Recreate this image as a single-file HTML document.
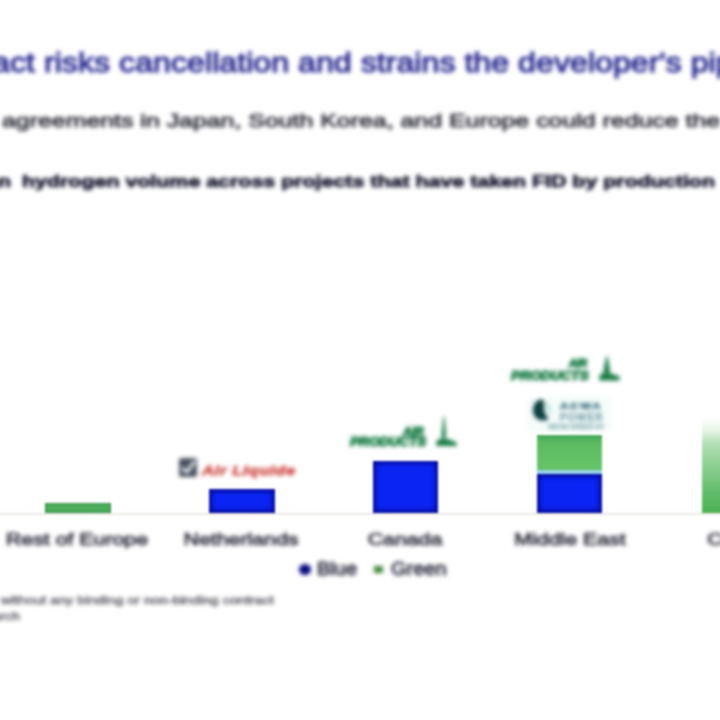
<!DOCTYPE html>
<html lang="en">
<head>
<meta charset="utf-8">
<title>Clean hydrogen offtake risk</title>
<style>
  html, body { margin: 0; padding: 0; background: #ffffff; }
  body { width: 720px; height: 720px; overflow: hidden; position: relative;
         font-family: "Liberation Sans", Arial, sans-serif; }
  .stage { position: absolute; left: -200px; top: -40px; width: 1120px; height: 800px; }
  #shapes { filter: blur(1px); }
  #texts { filter: blur(2.2px); }
  .inner { position: absolute; left: 200px; top: 40px; width: 720px; height: 720px; }
  .t { position: absolute; white-space: nowrap; line-height: 1; margin: 0; transform-origin: 0 89.35%; }
  .pre { position: absolute; right: 100%; top: 0; white-space: pre; }
  .title { font-size: 32.2px; color: #24268e; left: 44px; top: 44.7px; font-weight: normal;
           -webkit-text-stroke: 1.15px #24268e; transform: scaleY(0.88); }
  .sub { font-size: 24.9px; color: #2a2a36; left: 2px; top: 105.5px; -webkit-text-stroke: 1px #2a2a36; transform: scaleY(0.72); }
  .head { font-size: 21.4px; font-weight: bold; color: #10102a; left: 22px; top: 169.5px; -webkit-text-stroke: 0.9px #10102a; transform: scaleY(0.8); }
  .axis { position: absolute; left: -10px; width: 760px; top: 513px; height: 2px; background: #ebe9e5; }
  .bar { position: absolute; }
  .blue { background: #0a24f4; box-shadow: inset 0 0 4px 3px #080e9c; }
  .green { background: #4cae5a; box-shadow: inset 0 0 2px 1px #3a8e4c; }
  .lab { font-size: 21.3px; color: #2a2a38; top: 528px; transform-origin: 50% 89.35%; transform: translateX(-50%) scaleY(0.78); -webkit-text-stroke: 0.95px #2a2a38; }
  .leg { font-size: 20px; color: #2e2e42; top: 558px; transform: scaleY(0.9); -webkit-text-stroke: 0.9px #2e2e42; }
  .foot { font-size: 14.3px; color: #4a4a54; transform: scaleY(0.76); -webkit-text-stroke: 0.5px #4a4a54; }
  .logo { position: absolute; }
  .ap { color: #187c46; font-weight: bold; font-style: italic; -webkit-text-stroke: 1.2px #187c46; }
</style>
</head>
<body>
<div class="stage" id="shapes"><div class="inner">
  <div class="axis"></div>
  <div class="bar green" style="left:45px;top:503px;width:66px;height:10px"></div>
  <div class="bar blue"  style="left:209px;top:489px;width:66px;height:24px"></div>
  <div class="bar blue"  style="left:373px;top:461px;width:65px;height:52px"></div>
  <div class="bar" style="left:537px;top:435px;width:65px;height:36px;background:linear-gradient(to bottom,#42a658 0%,#5cbc62 22%,#66c468 100%)"></div>
  <div class="bar" style="left:537px;top:470px;width:65px;height:4px;background:#9ad2ea"></div>
  <div class="bar blue"  style="left:537px;top:473.5px;width:65px;height:39.5px"></div>
  <div class="bar" style="left:702px;top:418px;width:66px;height:95px;background:linear-gradient(to bottom,#ffffff 0%,#e4f4e4 14%,#b4e0b6 26%,#62bc6a 78%,#4ab054 100%)"></div>
</div></div>

<div class="stage" id="texts"><div class="inner">

  <h1 class="t title"><span class="pre">Lack of offtake contract </span>risks cancellation and strains the developer's pipeline</h1>
  <p class="t sub"><span class="pre">Delays in finalising offtake </span>agreements in Japan, South Korea, and Europe could reduce the project count</p>
  <p class="t head"><span class="pre" style="margin-right:5px">Clean </span>hydrogen volume across projects that have taken FID by production<span style="margin-left:14px"> pathway</span></p>

  <!-- Netherlands logo -->
  <div class="logo" style="left:179px;top:458px;width:18px;height:19px;background:#4a5260;border-radius:2px">
    <svg width="18" height="19" viewBox="0 0 18 19" style="position:absolute;left:0;top:0"><path d="M3 10 L8 14 L16 3" fill="none" stroke="#e8eef4" stroke-width="3"/></svg>
  </div>
  <div class="t" style="left:202px;top:461px;font-size:16.5px;font-weight:bold;font-style:italic;color:#d0554e;letter-spacing:0.7px;-webkit-text-stroke:1.1px #d0554e;transform:scaleY(0.78)">Air Liquide</div>

  <!-- Canada: Air Products -->
  <div class="t ap" style="left:350px;top:435px;font-size:13.6px">PRODUCTS</div>
  <div class="t ap" style="left:403px;top:426px;font-size:12px">AIR</div>
  <svg class="logo" style="left:432px;top:415px" width="28" height="33" viewBox="0 0 28 33"><path d="M12 2 L13.5 22 L10 22 Z" fill="#187c46" stroke="#187c46" stroke-width="1.2" stroke-linejoin="round"/><path d="M5 25 L12 23 L24 27 L25 31 H4 Z" fill="#187c46"/></svg>

  <!-- Middle East: Air Products -->
  <div class="t ap" style="left:511px;top:370px;font-size:13.6px;transform-origin:0 0;transform:scale(1.02,0.9)">PRODUCTS</div>
  <div class="t ap" style="left:569px;top:358px;font-size:10.5px">AIR</div>
  <svg class="logo" style="left:595px;top:355px" width="28" height="27" viewBox="0 0 28 27"><path d="M12 2 L14.5 17 L9 17 Z" fill="#187c46" stroke="#187c46" stroke-width="1.5" stroke-linejoin="round"/><path d="M5 19 L12 17.5 L24 21 L25 25.5 H4 Z" fill="#187c46"/></svg>

  <!-- Middle East: ACWA Power -->
  <div class="bar" style="left:527px;top:396px;width:84px;height:36px;background:#f5fcfa;border-radius:6px"></div>
  <svg class="logo" style="left:532px;top:399px" width="23" height="23" viewBox="0 0 26 26"><path d="M10 1 C3 3 0 11 3 18 C6 24 14 25 18 22 C14 19 12 12 13 3 Z" fill="#0e4040" stroke="#0e4040" stroke-width="1.5"/><path d="M15 3 C20 5 23 11 21 18 C18 14 16 9 15 3 Z" fill="#b4e4dc"/></svg>
  <div class="t" style="left:560px;top:400px;font-size:11.5px;font-weight:bold;color:#3c7480;letter-spacing:1.8px;-webkit-text-stroke:0.8px #3c7480;transform:scaleY(0.85)">ACWA</div>
  <div class="t" style="left:560px;top:413px;font-size:10px;color:#6c98a4;letter-spacing:1.2px;-webkit-text-stroke:0.6px #6c98a4">POWER</div>
  <div class="t" style="left:548px;top:424px;font-size:6.5px;color:#7fa8ac;letter-spacing:0.1px;-webkit-text-stroke:0.4px #7fa8ac">NEOM GREEN HY</div>

  <!-- axis labels -->
  <div class="t lab" style="left:77px">Rest of Europe</div>
  <div class="t lab" style="left:241px">Netherlands</div>
  <div class="t lab" style="left:405px">Canada</div>
  <div class="t lab" style="left:570px">Middle East</div>
  <div class="t lab" style="left:735px">China</div>

  <!-- legend -->
  <div class="bar" style="left:299px;top:564px;width:12px;height:10.5px;border-radius:50%;background:#08087c"></div>
  <div class="t leg" style="left:317px">Blue</div>
  <div class="bar" style="left:373.5px;top:566px;width:9px;height:7px;background:#3c8838"></div>
  <div class="t leg" style="left:391px">Green</div>

  <!-- footnotes -->
  <div class="t foot" style="left:1px;top:591.5px"><span class="pre">Note: Projects that have taken FID </span>without any binding or non-binding contract</div>
  <div class="t foot" style="left:0;top:607.5px"><span class="pre">Source: Company announcements, Rystad Energy resea</span>rch</div>

</div></div>
</body>
</html>
